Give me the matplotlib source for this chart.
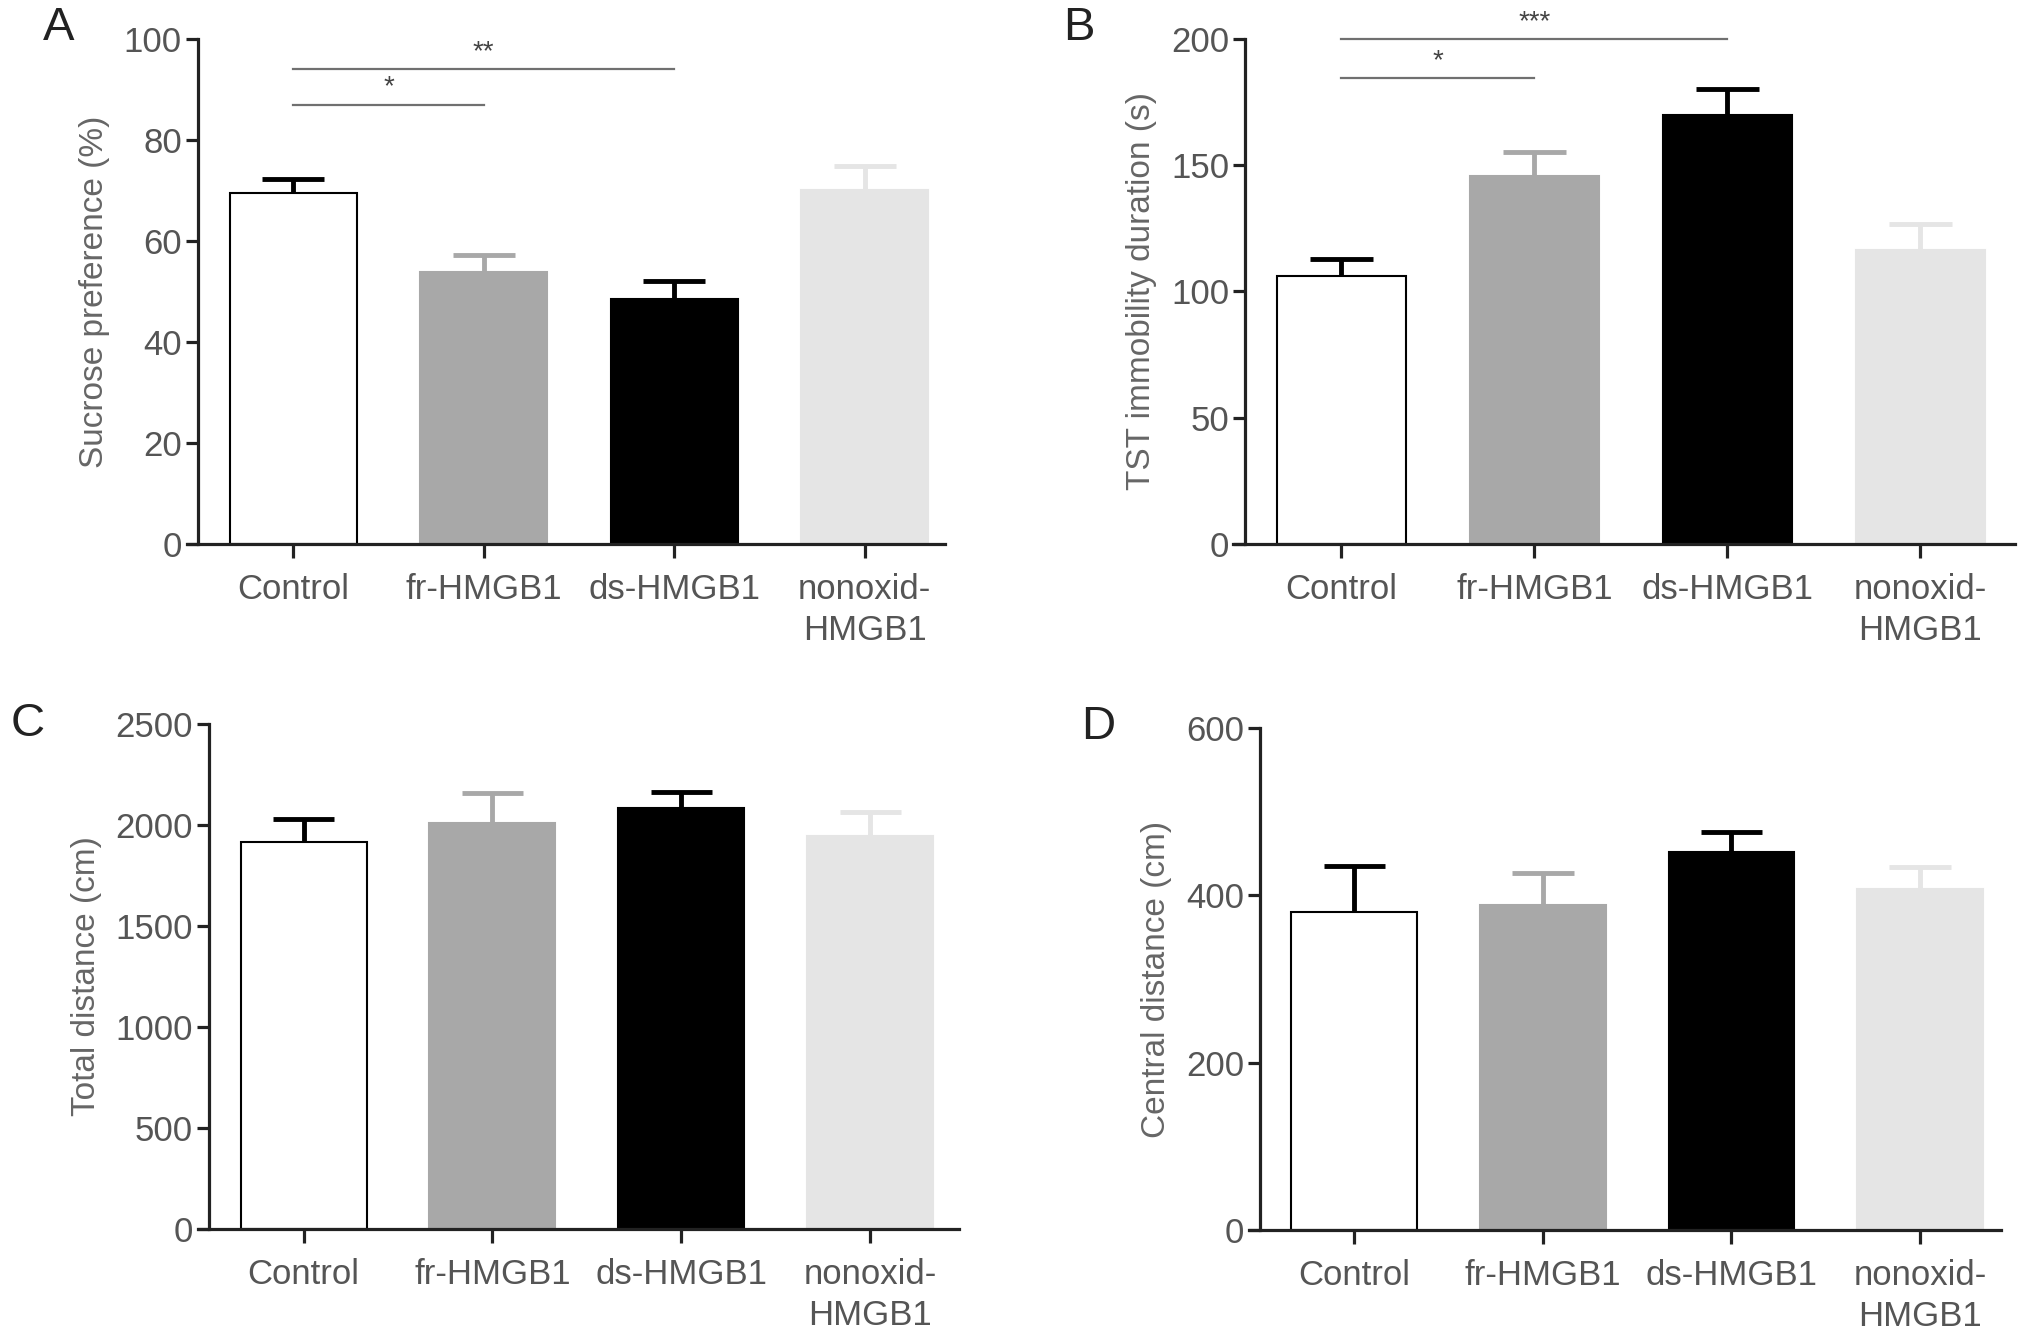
import matplotlib
matplotlib.use('Agg')
import matplotlib.pyplot as plt
import numpy as np

GROUPS = ['Control', 'fr-HMGB1', 'ds-HMGB1', 'nonoxid-\nHMGB1']
BAR_COLORS = ['white', '#a8a8a8', 'black', '#e5e5e5']
ERR_COLORS = ['black', '#a8a8a8', 'black', '#e5e5e5']

# panel A: sucrose preference (%)
sucrose_mean = [69.4, 53.9, 48.6, 70.0]
sucrose_err = [2.8, 3.3, 3.5, 4.9]
# panel B: TST immobility (s)
tst_mean = [106.2, 145.7, 169.7, 116.6]
tst_err = [6.7, 9.7, 10.6, 10.1]
# panel C: total distance (cm)
total_mean = [1915, 2012, 2085, 1946]
total_err = [117, 147, 79, 119]
# panel D: central distance (cm)
central_mean = [380, 389, 452, 408]
central_err = [55, 38, 24, 26]

# significance brackets: (i, j, y_line, label)
sig_A = [(0, 1, 87, '*'), (0, 2, 94, '**')]
sig_B = [(0, 1, 184.5, '*'), (0, 2, 200, '***')]

TXT = '#555555'
FONT = ['Liberation Sans', 'DejaVu Sans']

fig = plt.figure(figsize=(20.32, 13.38), dpi=100)

# letter, axes rect, letter pos, data, ylabel, ymax, yticks, xright, sigs
panels = [
    ('A', [0.0918, 0.5934, 0.3731, 0.3775], (0.021, 0.979),
     sucrose_mean, sucrose_err, 'Sucrose preference (%)', 100,
     np.arange(0, 101, 20), 3.42, sig_A),
    ('B', [0.6070, 0.5934, 0.3846, 0.3775], (0.523, 0.979),
     tst_mean, tst_err, 'TST immobility duration (s)', 200,
     np.arange(0, 201, 50), 3.49, sig_B),
    ('C', [0.0973, 0.0815, 0.3747, 0.3774], (0.005, 0.459),
     total_mean, total_err, 'Total distance (cm)', 2500,
     np.arange(0, 2501, 500), 3.47, []),
    ('D', [0.6145, 0.0807, 0.3703, 0.3752], (0.532, 0.457),
     central_mean, central_err, 'Central distance (cm)', 600,
     np.arange(0, 601, 200), 3.43, []),
]

for letter, rect, lpos, mean, err, ylabel, ytop, yticks, xright, sigs in panels:
    ax = fig.add_axes(rect)
    x = np.arange(len(GROUPS))
    ax.bar(x, mean, width=0.667, color=BAR_COLORS,
           edgecolor=['black', BAR_COLORS[1], 'black', BAR_COLORS[3]],
           linewidth=1.5, zorder=2)
    top = np.array(mean) + np.array(err)
    ax.vlines(x, mean, top, colors=ERR_COLORS, linewidth=3.5, zorder=1)
    ax.hlines(top, x - 0.163, x + 0.163, colors=ERR_COLORS, linewidth=3.5,
              zorder=1)

    for i, j, yl, lab in sigs:
        ax.plot([i, j], [yl, yl], color='#707070', lw=1.6, clip_on=False)
        ax.text((i + j) / 2, yl + ytop * 0.008, lab, ha='center', va='bottom',
                fontsize=20, color='#444444', family=FONT, clip_on=False)

    ax.set_xlim(-0.56, xright)
    ax.set_ylim(0, ytop)
    ax.spines['top'].set_visible(False)
    ax.spines['right'].set_visible(False)
    ax.spines['left'].set_position(('data', -0.5))
    for s in ('left', 'bottom'):
        ax.spines[s].set_linewidth(2.3)
        ax.spines[s].set_color('#222222')
    ax.set_xticks(x)
    ax.set_xticklabels(GROUPS, fontsize=25, color=TXT, family=FONT,
                       linespacing=1.3)
    ax.set_yticks(yticks)
    ax.set_yticklabels([str(v) for v in yticks], fontsize=25, color=TXT,
                       family=FONT)
    ax.tick_params(axis='x', length=10, width=2.3, color='#222222', pad=11)
    ax.tick_params(axis='y', length=8.5, width=2.3, color='#222222', pad=3)
    ax.set_ylabel(ylabel, fontsize=24, color='#666666', family=FONT,
                  labelpad=10)
    fig.text(lpos[0], lpos[1], letter,
             fontsize=34, color='#222222', ha='left', va='center',
             family=['Liberation Sans Narrow', 'Liberation Sans', 'DejaVu Sans'])

fig.savefig('out.png', dpi=100, facecolor='white')
